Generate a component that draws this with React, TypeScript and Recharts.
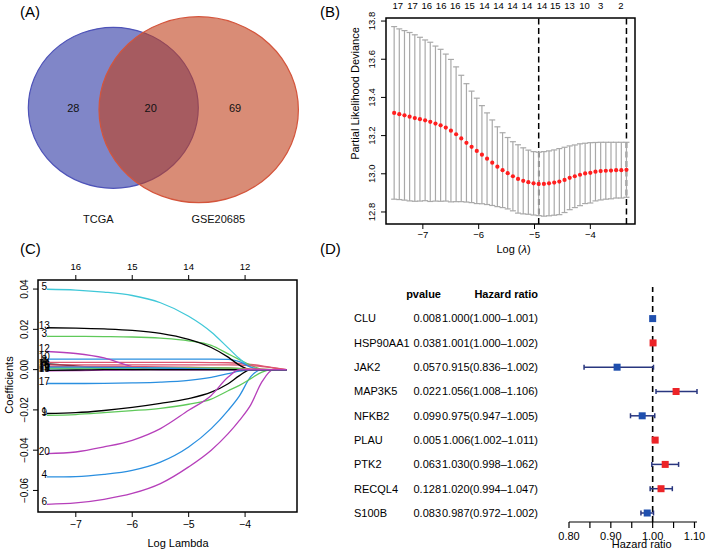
import React from 'react';
import {
  ScatterChart, Scatter, LineChart, Line, XAxis, YAxis, ErrorBar,
  ReferenceLine, ReferenceArea,
} from 'recharts';

const FONT = '"Liberation Sans", Arial, Helvetica, sans-serif';
const minus = (s: string) => s.replace('-', '\u2212');

// ---------------- Panel A : Venn ----------------
const vennSetNames = ['TCGA', 'GSE20685'];
const vennRegionCounts = [28, 20, 69]; // TCGA only, shared, GSE20685 only

// ---------------- Panel B : cv.glmnet ----------------
const cvLogLambda = [
  -7.514, -7.422, -7.329, -7.237, -7.144, -7.052, -6.959, -6.867, -6.774, -6.682,
  -6.589, -6.497, -6.404, -6.312, -6.219, -6.127, -6.034, -5.942, -5.850, -5.757,
  -5.665, -5.572, -5.480, -5.387, -5.295, -5.202, -5.110, -5.017, -4.925, -4.832,
  -4.740, -4.647, -4.555, -4.462, -4.370, -4.278, -4.185, -4.093, -4.000, -3.908,
  -3.815, -3.723, -3.630, -3.538, -3.445, -3.353,
];
const cvMean = [
  13.319, 13.312, 13.306, 13.299, 13.292, 13.286, 13.280, 13.272, 13.263, 13.254,
  13.242, 13.226, 13.207, 13.185, 13.162, 13.141, 13.120, 13.100, 13.079, 13.058,
  13.037, 13.019, 13.003, 12.987, 12.973, 12.963, 12.956, 12.950, 12.947, 12.947,
  12.950, 12.954, 12.959, 12.968, 12.979, 12.987, 12.995, 13.002, 13.005, 13.011,
  13.014, 13.016, 13.017, 13.019, 13.019, 13.021,
];
const cvSE = [
  0.452, 0.447, 0.444, 0.441, 0.436, 0.429, 0.421, 0.417, 0.406, 0.398,
  0.385, 0.373, 0.353, 0.331, 0.310, 0.292, 0.276, 0.257, 0.240, 0.224,
  0.209, 0.196, 0.187, 0.181, 0.179, 0.173, 0.168, 0.166, 0.166, 0.169,
  0.170, 0.171, 0.173, 0.171, 0.167, 0.164, 0.162, 0.158, 0.158, 0.153,
  0.151, 0.149, 0.148, 0.146, 0.146, 0.144,
];
const cvTopPos = [
  -7.448, -7.186, -6.928, -6.672, -6.421, -6.165, -5.896, -5.645,
  -5.394, -5.136, -4.867, -4.629, -4.373, -4.104, -3.815, -3.454,
];
const cvTopLabels = ['17', '17', '16', '16', '16', '15', '14', '14', '14', '14', '14', '15', '13', '10', '3', '2'];
const cvXTicks = [-7, -6, -5, -4];
const cvYTicks = [12.8, 13.0, 13.2, 13.4, 13.6, 13.8];

// ---------------- Panel C : coefficient paths ----------------
const coefLogLambda = [-7.514, -7.0, -6.5, -6.0, -5.5, -5.0, -4.6, -4.3, -4.1, -3.9, -3.7, -3.5, -3.26];
const coef1 = [-0.0218, -0.0214, -0.0203, -0.0188, -0.0168, -0.0144, -0.0112, -0.0070, -0.0030, 0, 0, 0, 0];
const coef2 = [0.0036, 0.0036, 0.0036, 0.0036, 0.0036, 0.0036, 0.0035, 0.0034, 0.0031, 0.0026, 0.0019, 0.0010, 0];
const coef3 = [0.0165, 0.0165, 0.0164, 0.0162, 0.0156, 0.0143, 0.0120, 0.0078, 0.0050, 0.0022, 0.0002, 0, 0];
const coef4 = [-0.0533, -0.0531, -0.0520, -0.0500, -0.0459, -0.0384, -0.0293, -0.0202, -0.0130, -0.0035, 0, 0, 0];
const coef5 = [0.0399, 0.0395, 0.0385, 0.0368, 0.0332, 0.0265, 0.0187, 0.0108, 0.0055, 0.0012, 0, 0, 0];
const coef6 = [-0.0669, -0.0662, -0.0644, -0.0615, -0.0566, -0.0483, -0.0400, -0.0318, -0.0252, -0.0175, -0.0060, 0, 0];
const coef7 = [0.0028, 0.0018, 0.0005, 0, 0, 0, 0, 0, 0, 0, 0, 0, 0];
const coef8 = [0.0024, 0.0024, 0.0024, 0.0024, 0.0024, 0.0024, 0.0024, 0.0024, 0.0023, 0.0020, 0.0015, 0.0008, 0];
const coef9 = [-0.0227, -0.0223, -0.0214, -0.0204, -0.0192, -0.0172, -0.0146, -0.0105, -0.0078, -0.0045, -0.0012, 0, 0];
const coef10 = [0.0052, 0.0052, 0.0052, 0.0052, 0.0052, 0.0052, 0.0052, 0.0051, 0.0040, 0.0013, 0, 0, 0];
const coef11 = [0.0004, 0.0004, 0.0004, 0.0004, 0.0004, 0.0004, 0.0004, 0.0004, 0.0002, 0, 0, 0, 0];
const coef12 = [0.0090, 0.0080, 0.0058, 0.0015, 0, 0, 0, 0, 0, 0, 0, 0, 0];
const coef13 = [0.0208, 0.0206, 0.0202, 0.0195, 0.0180, 0.0150, 0.0110, 0.0062, 0.0022, 0, 0, 0, 0];
const coef14 = [0.0016, 0.0016, 0.0016, 0.0015, 0.0014, 0.0012, 0.0010, 0.0008, 0.0006, 0.0004, 0.0002, 0, 0];
const coef15 = [0.0008, 0.0008, 0.0008, 0.0008, 0.0008, 0.0008, 0.0008, 0.0008, 0.0005, 0, 0, 0, 0];
const coef16 = [0.0012, 0.0012, 0.0011, 0.0010, 0.0008, 0.0005, 0.0002, 0, 0, 0, 0, 0, 0];
const coef17 = [-0.0069, -0.0069, -0.0068, -0.0066, -0.0062, -0.0053, -0.0038, -0.0020, -0.0008, 0, 0, 0, 0];
const coef18 = [-0.0006, -0.0005, -0.0003, -0.0001, 0, 0, 0, 0, 0, 0, 0, 0, 0];
const coef19 = [-0.0004, -0.0002, 0, 0, 0, 0, 0, 0, 0, 0, 0, 0, 0];
const coef20 = [-0.0417, -0.0409, -0.0384, -0.0351, -0.0293, -0.0202, -0.0128, -0.0037, 0, 0, 0, 0, 0];
const coefNames = ['1', '2', '3', '4', '5', '6', '7', '8', '9', '10', '11', '12', '13', '14', '15', '16', '17', '18', '19', '20'];
const coefXTicks = [-7, -6, -5, -4];
const coefTopDf = ['16', '15', '14', '12'];
const coefYTicks = [-0.06, -0.04, -0.02, 0, 0.02, 0.04];

// ---------------- Panel D : forest plot ----------------
const genes = ['CLU', 'HSP90AA1', 'JAK2', 'MAP3K5', 'NFKB2', 'PLAU', 'PTK2', 'RECQL4', 'S100B'];
const pvalues = ['0.008', '0.038', '0.057', '0.022', '0.099', '0.005', '0.063', '0.128', '0.083'];
const hazardRatio = [1.000, 1.001, 0.915, 1.056, 0.975, 1.006, 1.030, 1.020, 0.987];
const hrLower = [1.000, 1.000, 0.836, 1.008, 0.947, 1.002, 0.998, 0.994, 0.972];
const hrUpper = [1.001, 1.002, 1.002, 1.106, 1.005, 1.011, 1.062, 1.047, 1.002];
const forestTicks = [0.8, 0.85, 0.9, 0.95, 1.0, 1.05, 1.1];
const forestTickLabels = ['0.80', '', '0.90', '', '1.00', '', '1.10'];

// ---------------- styling / layout ----------------
const C_BLACK = '#000000';
const C_RED = '#dd5570';
const C_GREEN = '#5fc95a';
const C_BLUE = '#2a8fe0';
const C_CYAN = '#40c8d8';
const C_MAG = '#b63fba';
const coefColors: Record<string, string> = {
  '1': C_BLACK, '2': C_RED, '3': C_GREEN, '4': C_BLUE, '5': C_CYAN, '6': C_MAG,
  '7': C_BLACK, '8': C_RED, '9': C_GREEN, '10': C_BLUE, '11': C_CYAN, '12': C_MAG,
  '13': C_BLACK, '14': C_RED, '15': C_GREEN, '16': C_BLUE, '17': C_BLUE, '18': C_MAG,
  '19': C_BLACK, '20': C_MAG,
};
const coefArrays = [coef1, coef2, coef3, coef4, coef5, coef6, coef7, coef8, coef9, coef10,
  coef11, coef12, coef13, coef14, coef15, coef16, coef17, coef18, coef19, coef20];

const vennLayout = [
  { x: 113.3, y: 107.8, rx: 85, ry: 80.5, fill: '#2b35a3', stroke: '#4e53b8' },
  { x: 198.7, y: 109.7, rx: 99.7, ry: 93, fill: '#c03f1b', stroke: '#d4553c' },
];
const vennCountLayout = [{ x: 73.3, y: 107.8 }, { x: 150.7, y: 107.8 }, { x: 235, y: 107.8 }];
const vennNameLayout = [{ x: 98.3, y: 219 }, { x: 218.3, y: 219 }];

const rotTick = (fmt: (v: number) => string, fs: number) => (p: any) => (
  <text x={p.x} y={p.y} transform={`rotate(-90 ${p.x} ${p.y})`} textAnchor="middle"
    fontSize={fs} fontFamily={FONT} fill="#000">{fmt(p.payload.value)}</text>
);

function PanelA() {
  const ellipses = vennLayout.map((e, i) => ({ ...e, name: vennSetNames[i] }));
  const counts = vennRegionCounts.map((c, i) => ({ ...vennCountLayout[i], count: c }));
  const names = vennSetNames.map((n, i) => ({ ...vennNameLayout[i], name: n }));
  return (
    <div style={{ position: 'absolute', left: 0, top: 0 }}>
      <ScatterChart width={330} height={240} margin={{ top: 0, right: 0, bottom: 0, left: 0 }}>
        <XAxis dataKey="x" type="number" domain={[0, 330]} hide />
        <YAxis dataKey="y" type="number" domain={[0, 240]} reversed hide />
        <Scatter data={ellipses} isAnimationActive={false}
          shape={(p: any) => (
            <ellipse cx={p.cx} cy={p.cy} rx={p.payload.rx} ry={p.payload.ry}
              fill={p.payload.fill} fillOpacity={0.6} stroke={p.payload.stroke} strokeWidth={1.2} />
          )} />
        <Scatter data={counts} isAnimationActive={false}
          shape={(p: any) => (
            <text x={p.cx} y={p.cy} dy="0.35em" textAnchor="middle" fontSize={11} fontFamily={FONT} fill="#111">
              {p.payload.count}
            </text>
          )} />
        <Scatter data={names} isAnimationActive={false}
          shape={(p: any) => (
            <text x={p.cx} y={p.cy} dy="0.35em" textAnchor="middle" fontSize={11} fontFamily={FONT} fill="#111">
              {p.payload.name}
            </text>
          )} />
      </ScatterChart>
    </div>
  );
}

function PanelB() {
  const cvData = cvLogLambda.map((x, i) => ({ x, y: cvMean[i], se: cvSE[i] }));
  const minV = Math.min(...cvMean);
  const iMin = cvMean.indexOf(minV);
  const thr = minV + cvSE[iMin];
  let i1se = iMin;
  cvMean.forEach((m, i) => { if (m <= thr && cvLogLambda[i] > cvLogLambda[i1se]) i1se = i; });
  const xDom: [number, number] = [-7.66, -3.2];
  const yDom: [number, number] = [12.737, 13.816];
  const tickStyle = { fontSize: 9.5, fill: '#000', fontFamily: FONT };
  return (
    <div style={{ position: 'absolute', left: 345, top: 0 }}>
      <ScatterChart width={295} height={258} margin={{ top: 0, right: 5, bottom: 0, left: 0 }}>
        <XAxis xAxisId="top" dataKey="x" orientation="top" type="number" domain={xDom} allowDataOverflow
          ticks={cvTopPos} interval={0} tickFormatter={(v: number, i: number) => cvTopLabels[i]}
          tickLine={false} tickSize={0} tickMargin={9} axisLine={false} height={18} tick={tickStyle} />
        <XAxis dataKey="x" type="number" domain={xDom} allowDataOverflow ticks={cvXTicks} interval={0}
          tickFormatter={(v: number) => minus(String(v))} tickSize={5} tickMargin={2}
          tickLine={{ stroke: '#000' }} axisLine={false} height={34} tick={tickStyle}
          label={(p: any) => {
            const vb = p.viewBox;
            return (
              <text x={vb.x + vb.width / 2 + 3} y={vb.y + 29} textAnchor="middle" fontSize={11} fontFamily={FONT} fill="#000">
                Log (<tspan fontStyle="italic">λ</tspan>)
              </text>
            );
          }} />
        <YAxis dataKey="y" type="number" domain={yDom} allowDataOverflow ticks={cvYTicks} interval={0}
          width={41} tickSize={5} tickMargin={6} tickLine={{ stroke: '#000' }} axisLine={false}
          tick={rotTick((v) => v.toFixed(1), 9.5)}
          label={(p: any) => (
            <text x={13.9} y={93.5} transform="rotate(-90 13.9 93.5)" textAnchor="middle" fontSize={11} fontFamily={FONT} fill="#000">
              Partial Likelihood Deviance
            </text>
          )} />
        <ReferenceArea x1={xDom[0]} x2={xDom[1]} y1={yDom[0]} y2={yDom[1]} fill="none" fillOpacity={0}
          stroke="#000" strokeWidth={1.5} ifOverflow="visible" />
        <ReferenceLine x={cvLogLambda[iMin]} stroke="#000" strokeWidth={1.5} strokeDasharray="6 3.5" />
        <ReferenceLine x={cvLogLambda[i1se]} stroke="#000" strokeWidth={1.5} strokeDasharray="6 3.5" />
        <Scatter xAxisId="top" data={cvData} isAnimationActive={false} shape={() => <g />} />
        <Scatter data={cvData} isAnimationActive={false} shape={() => <g />}>
          <ErrorBar dataKey="se" direction="y" width={3} stroke="#a9a9a9" strokeWidth={1.2} isAnimationActive={false} />
        </Scatter>
        <Scatter data={cvData} isAnimationActive={false}
          shape={(p: any) => <circle cx={p.cx} cy={p.cy} r={2.1} fill="#ff1f1f" />} />
      </ScatterChart>
    </div>
  );
}

function PanelC() {
  const rows = coefLogLambda.map((x, i) => {
    const r: any = { x };
    coefNames.forEach((n, k) => { r['v' + n] = coefArrays[k][i]; });
    return r;
  });
  const xDom: [number, number] = [-7.67, -3.08];
  const yDom: [number, number] = [-0.0707, 0.0445];
  const tickStyle = { fontSize: 10.5, fill: '#000', fontFamily: FONT };
  return (
    <div style={{ position: 'absolute', left: 0, top: 258 }}>
      <LineChart width={300} height={292} data={rows} margin={{ top: 0, right: 3, bottom: 0, left: 0 }}>
        <XAxis xAxisId="top" dataKey="x" orientation="top" type="number" domain={xDom} allowDataOverflow
          ticks={coefXTicks} interval={0} tickFormatter={(v: number, i: number) => coefTopDf[i]}
          tickSize={5} tickMargin={5} tickLine={{ stroke: '#000' }} axisLine={false} height={22}
          tick={{ fontSize: 9.5, fill: '#000', fontFamily: FONT }} />
        <XAxis dataKey="x" type="number" domain={xDom} allowDataOverflow ticks={coefXTicks} interval={0}
          tickFormatter={(v: number) => minus(String(v))} tickSize={5} tickMargin={4}
          tickLine={{ stroke: '#000' }} axisLine={false} height={38} tick={tickStyle}
          label={(p: any) => (
            <text x={178} y={288.6} textAnchor="middle" fontSize={11} fontFamily={FONT} fill="#000">Log Lambda</text>
          )} />
        <YAxis type="number" domain={yDom} allowDataOverflow ticks={coefYTicks} interval={0}
          width={38} tickSize={5} tickMargin={5.3} tickLine={{ stroke: '#000' }} axisLine={false}
          tick={rotTick((v) => minus(v.toFixed(2)), 10)}
          label={(p: any) => (
            <text x={12.9} y={127} transform="rotate(-90 12.9 127)" textAnchor="middle" fontSize={11} fontFamily={FONT} fill="#000">
              Coefficients
            </text>
          )} />
        <ReferenceArea x1={xDom[0]} x2={xDom[1]} y1={yDom[0]} y2={yDom[1]} fill="none" fillOpacity={0}
          stroke="#000" strokeWidth={1.5} ifOverflow="visible" />
        <Line xAxisId="top" dataKey="v1" stroke="none" strokeWidth={0} dot={false} activeDot={false} isAnimationActive={false} />
        {coefNames.map((n) => (
          <Line key={n} dataKey={'v' + n} type="monotone" stroke={coefColors[n]} strokeWidth={1.3}
            dot={false} isAnimationActive={false}
            label={(p: any) => (p.index === 0 ? (
              <text x={(p.x ?? p.viewBox?.x) - 2.5} y={(p.y ?? p.viewBox?.y) - 2.5} dy="0.35em" textAnchor="middle"
                fontSize={10} fontFamily={FONT} fill="#000">{n}</text>
            ) : <g />)} />
        ))}
      </LineChart>
    </div>
  );
}

function PanelD() {
  const data = genes.map((g, i) => ({
    row: i + 1,
    hr: hazardRatio[i],
    ci: [hazardRatio[i] - hrLower[i], hrUpper[i] - hazardRatio[i]],
    color: hazardRatio[i] > 1 ? '#ec2327' : '#1f4fae',
  }));
  const rowTicks = [0, ...genes.map((_, i) => i + 1)];
  const txt = { fontSize: 11, fontFamily: FONT, fill: '#000' };
  const tableTick = (p: any) => {
    const r = p.payload.value;
    if (r === 0) {
      return (
        <g>
          <text x={91} y={p.y} dy="0.35em" textAnchor="end" fontWeight="bold" {...txt}>pvalue</text>
          <text x={188} y={p.y} dy="0.35em" textAnchor="end" fontWeight="bold" {...txt}>Hazard ratio</text>
        </g>
      );
    }
    const i = r - 1;
    const hrText = `${hazardRatio[i].toFixed(3)}(${hrLower[i].toFixed(3)}\u2013${hrUpper[i].toFixed(3)})`;
    return (
      <g>
        <text x={4} y={p.y} dy="0.35em" textAnchor="start" {...txt}>{genes[i]}</text>
        <text x={91} y={p.y} dy="0.35em" textAnchor="end" {...txt}>{pvalues[i]}</text>
        <text x={188} y={p.y} dy="0.35em" textAnchor="end" {...txt}>{hrText}</text>
      </g>
    );
  };
  return (
    <div style={{ position: 'absolute', left: 350, top: 270 }}>
      <ScatterChart width={359} height={280} margin={{ top: 17, right: 12, bottom: 0, left: 0 }}>
        <XAxis dataKey="hr" type="number" domain={[0.8, 1.1]} ticks={forestTicks} interval={0}
          tickFormatter={(v: number, i: number) => forestTickLabels[i]} tickSize={6} tickMargin={4}
          tickLine={{ stroke: '#000', strokeWidth: 1.2 }} axisLine={{ stroke: '#000', strokeWidth: 1.2 }} height={28}
          tick={{ fontSize: 11, fill: '#000', fontFamily: FONT }}
          label={(p: any) => (
            <text x={291.7} y={277.9} textAnchor="middle" {...txt}>Hazard ratio</text>
          )} />
        <YAxis dataKey="row" type="number" domain={[-0.3, 9.37]} reversed ticks={rowTicks} interval={0}
          width={219} axisLine={false} tickLine={false} tick={tableTick} />
        <ReferenceLine x={1} stroke="#000" strokeWidth={1.6} strokeDasharray="6 4" />
        <Scatter data={data} isAnimationActive={false} shape={() => <g />}>
          <ErrorBar dataKey="ci" direction="x" width={2.5} stroke="#29367f" strokeWidth={1.5} isAnimationActive={false} />
        </Scatter>
        <Scatter data={data} isAnimationActive={false}
          shape={(p: any) => <rect x={p.cx - 3.5} y={p.cy - 3.5} width={7} height={7} fill={p.payload.color} />} />
      </ScatterChart>
    </div>
  );
}

const letterStyle: React.CSSProperties = {
  position: 'absolute', fontSize: 15, lineHeight: '17px', fontFamily: FONT, color: '#000',
};

export default function App() {
  return (
    <div style={{ position: 'absolute', left: 0, top: 0, width: 709, height: 550, background: '#fff', overflow: 'hidden' }}>
      <PanelA />
      <PanelB />
      <PanelC />
      <PanelD />
      <div style={{ ...letterStyle, left: 20, top: 2.5 }}>(A)</div>
      <div style={{ ...letterStyle, left: 320, top: 2.5 }}>(B)</div>
      <div style={{ ...letterStyle, left: 20, top: 239.5 }}>(C)</div>
      <div style={{ ...letterStyle, left: 320, top: 239.5 }}>(D)</div>
    </div>
  );
}
